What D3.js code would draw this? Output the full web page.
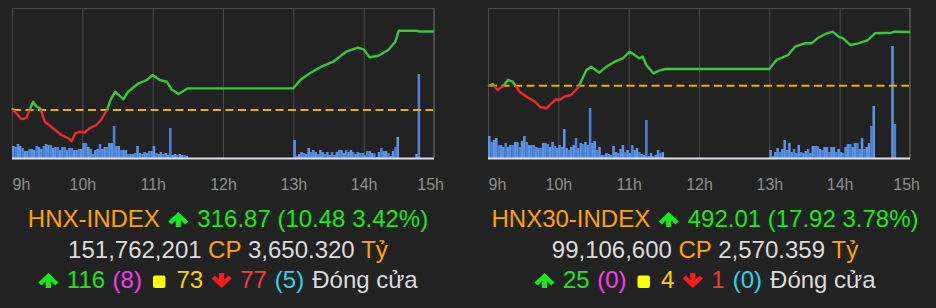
<!DOCTYPE html>
<html><head><meta charset="utf-8">
<script src="https://cdn.jsdelivr.net/npm/d3@7"></script>
<style>
html,body{margin:0;padding:0;background:#222222;}
svg{display:block;}
text{font-family:"Liberation Sans",Arial,Helvetica,sans-serif;}
</style></head><body>
<svg id="c" width="936" height="308"></svg>
<script>
// ---------- DATA ----------
const hourTicks = [0, 60, 120, 180, 240, 300, 360];          // minutes since 9:00
const hourLabels = ["9h", "10h", "11h", "12h", "13h", "14h", "15h"];

// HNX-INDEX intraday (minutes since 9:00, index points)
const hnxTime = [0,1,8,12,15,18,21,24,25,28,35,42,48,51,54,58,62,66,72,76,81,84,88,95,99,108,115,120,126,132,136,142,150,240,246,254,264,274,285,295,300,305,312,321,327,330,345,348,360];
const hnxPrice = [306.63,306.40,305.20,305.29,306.40,307.50,306.84,306.63,306.17,304.84,303.96,303.07,302.63,302.27,303.29,303.51,303.37,303.96,304.40,305.07,306.40,307.73,308.84,307.83,308.84,309.96,310.40,311.07,310.40,310.17,309.16,308.53,309.29,309.29,310.40,311.29,312.17,312.84,314.17,314.71,314.49,313.43,313.60,314.40,315.51,316.97,316.97,316.87,316.87];
const hnxRef = 306.39;
// volume (relative units), 2-minute bins from 9:00 and from 13:00
const hnxVolMorning = [12,11,14,12,10,7,7,9,9,8, 12,11,9,12,14,13,13,10,11,11, 8,11,11,8,10,10,8,8,9,9, 15,15,11,9,4,8,9,14,9,11, 11,15,15,32,12,12,8,8,8,4, 4,4,5,12,5,4,6,5,7,7, 12,5,4,6,4,5,3,30,3,4, 3,4,3,3,2];
const hnxVolAfternoon = [18,2,4,6,5,4,10,6,8,6, 4,8,6,4,6,3,6,3,6,8, 8,5,8,6,8,6,4,6,5,5, 3,7,7,5,5,1,6,10,7,7, 5,2,7,11,21];
const hnxVolLateTime = [344, 346];
const hnxVolLate = [4, 84];

// HNX30-INDEX intraday
const hnx30Time = [0,4,8,13,17,21,24,27,33,40,45,50,54,58,61,65,71,77,80,84,88,95,101,108,115,121,125,129,132,135,141,146,151,240,246,256,262,270,276,281,289,294,299,303,309,316,324,330,344,347,360];
const hnx30Price = [473.90,474.67,472.67,474.00,476.00,475.43,473.77,472.10,470.43,468.77,466.90,466.57,468.23,469.57,469.33,470.43,471.00,473.57,476.00,479.33,480.43,478.43,480.43,482.10,483.23,485.43,484.33,483.23,483.77,481.00,478.23,479.10,479.67,479.67,482.67,484.33,487.10,488.23,488.23,489.90,491.57,492.10,490.43,489.90,487.67,488.23,489.33,491.57,491.77,492.10,492.01];
const hnx30Ref = 474.09;
const hnx30VolMorning = [22,16,18,20,13,13,11,15,11,13, 13,16,16,11,17,22,16,13,13,13, 11,10,10,15,15,14,11,16,12,10, 13,11,29,10,8,11,13,20,10,15, 14,16,13,50,15,17,8,11,3,3, 5,4,3,12,6,5,9,13,6,8, 5,13,8,10,6,4,3,38,2,5, 2,3,8,5,6];
const hnx30VolAfternoon = [8,2,6,10,6,9,18,8,15,6, 9,5,13,6,5,7,9,5,12,12, 12,9,8,11,11,6,11,11,6,9, 6,5,11,14,14,11,15,15,9,20, 9,11,15,32,52];
const hnx30VolLateTime = [344, 346];
const hnx30VolLate = [112, 34];

// Summary texts
const hnxSummary = {name:"HNX-INDEX", value:"316.87", change:"10.48", pct:"3.42%", shares:"151,762,201", amount:"3,650.320", up:"116", ceil:"(8)", flat:"73", down:"77", floor:"(5)"};
const hnx30Summary = {name:"HNX30-INDEX", value:"492.01", change:"17.92", pct:"3.78%", shares:"99,106,600", amount:"2,570.359", up:"25", ceil:"(0)", flat:"4", down:"1", floor:"(0)"};

// ---------- DRAW ----------
const svg = d3.select("#c");
const BIN = 2;

function buildVol(morning, afternoon, lateT, lateV) {
  const rows = [];
  morning.forEach((v, i) => rows.push({t: i * BIN, v}));
  afternoon.forEach((v, i) => rows.push({t: 240 + i * BIN, v}));
  lateT.forEach((t, i) => rows.push({t, v: lateV[i]}));
  return rows;
}

function chart(opts) {
  const g = svg.append("g");
  const x = d3.scaleLinear().domain([0, 360]).range([opts.x0, opts.x1]);
  const y = d3.scaleLinear().domain(opts.pDomain).range([158, 8]);
  const yv = d3.scaleLinear().domain([0, 150]).range([158, 8]);

  // frame
  g.append("rect").attr("x", opts.x0 + 0.5).attr("y", 8.5)
    .attr("width", opts.x1 - opts.x0 - 1).attr("height", 150)
    .attr("fill", "none").attr("stroke", "#4b4b4b").attr("stroke-width", 1);

  // grid / axis
  const ax = g.append("g").attr("transform", "translate(0,158)")
    .call(d3.axisBottom(x).tickValues(hourTicks).tickSize(-150).tickFormat((d, i) => hourLabels[i]));
  ax.select(".domain").remove();
  ax.selectAll(".tick line").attr("stroke", "#4b4b4b").attr("stroke-width", 1);
  ax.selectAll(".tick text")
    .attr("y", 32).attr("dy", null)
    .attr("fill", "#8e8e8e").style("font-size", "16px")
    .style("font-family", '"Liberation Sans",Arial,sans-serif')
    .attr("text-anchor", (d, i) => i === 0 ? "start" : (i === hourTicks.length - 1 ? "end" : "middle"))
    .attr("x", (d, i) => i === hourTicks.length - 1 ? 9.5 : 0);

  // volume
  const vol = buildVol(opts.volM, opts.volA, opts.volLT, opts.volL);
  g.append("g").selectAll("rect").data(vol).join("rect")
    .attr("x", d => x(d.t))
    .attr("width", d => x(d.t + BIN) - x(d.t) + 0.2)
    .attr("y", d => yv(d.v))
    .attr("height", d => yv(0) - yv(d.v))
    .attr("fill", (d, i) => i % 3 === 1 ? "#4d82d6" : "#5a94e6");

  // baseline
  g.append("line").attr("x1", opts.x0).attr("x2", opts.x1)
    .attr("y1", 158.5).attr("y2", 158.5).attr("stroke", "#dfe2ee").attr("stroke-width", 2);

  // reference dashed line
  g.append("line").attr("x1", opts.x0 + 1).attr("x2", opts.x1 - 1)
    .attr("y1", y(opts.ref)).attr("y2", y(opts.ref))
    .attr("stroke", "#e6b000").attr("stroke-width", 2).attr("stroke-dasharray", "8,4.5");

  // price line, green above ref, red below
  const pts = opts.time.map((t, i) => [t, opts.price[i]]);
  const line = d3.line().x(d => x(d[0])).y(d => y(d[1]));
  const idA = opts.id + "A", idB = opts.id + "B";
  const defs = g.append("defs");
  defs.append("clipPath").attr("id", idA).append("rect")
    .attr("x", opts.x0 - 2).attr("y", 0).attr("width", opts.x1 - opts.x0 + 4).attr("height", y(opts.ref));
  defs.append("clipPath").attr("id", idB).append("rect")
    .attr("x", opts.x0 - 2).attr("y", y(opts.ref)).attr("width", opts.x1 - opts.x0 + 4).attr("height", 200);
  g.append("path").datum(pts).attr("d", line).attr("fill", "none")
    .attr("stroke", "#37c837").attr("stroke-width", 2.4).attr("stroke-linejoin", "round")
    .attr("clip-path", `url(#${idA})`);
  g.append("path").datum(pts).attr("d", line).attr("fill", "none")
    .attr("stroke", "#ee2a2a").attr("stroke-width", 2.4).attr("stroke-linejoin", "round")
    .attr("clip-path", `url(#${idB})`);
}

chart({id: "hnx", x0: 12, x1: 434, pDomain: [300, 320], ref: hnxRef, time: hnxTime, price: hnxPrice,
  volM: hnxVolMorning, volA: hnxVolAfternoon, volLT: hnxVolLateTime, volL: hnxVolLate});
chart({id: "hnx30", x0: 488, x1: 910, pDomain: [450, 500], ref: hnx30Ref, time: hnx30Time, price: hnx30Price,
  volM: hnx30VolMorning, volA: hnx30VolAfternoon, volLT: hnx30VolLateTime, volL: hnx30VolLate});

// ---------- SUMMARY TEXT ----------
const C = {orange: "#ffa200", green: "#17ea17", gray: "#dcdcdc", magenta: "#f43cf4", yellow: "#ffd000",
  sq: "#ffff00", red: "#f23b3b", redArrow: "#ff1a1a", cyan: "#27d8ec"};
const FS = 24;

function icon(g, kind, x, base, color) {
  if (kind === "up") {
    g.append("path").attr("transform", `translate(${x},${base})`)
      .attr("d", "M10,-15 L20,-5.6 L16.8,-2.6 L12.6,-6.7 L12.6,0 L7.4,0 L7.4,-6.7 L3.2,-2.6 L0,-5.6 Z").attr("fill", color);
    return 20;
  }
  if (kind === "down") {
    g.append("path").attr("transform", `translate(${x},${base})`)
      .attr("d", "M10,0 L20,-9.4 L16.8,-12.4 L12.6,-8.3 L12.6,-15 L7.4,-15 L7.4,-8.3 L3.2,-12.4 L0,-9.4 Z").attr("fill", color);
    return 20;
  }
  g.append("rect").attr("x", x).attr("y", base - 12.5).attr("width", 12.5).attr("height", 12.5)
    .attr("rx", 2.2).attr("fill", color);
  return 12.5;
}

function richLine(cx, base, parts) {
  const g = svg.append("g");
  let x = 0;
  parts.forEach(p => {
    x += p.gap || 0;
    if (p.icon) {
      x += icon(g, p.icon, x, base, p.c);
    } else {
      const t = g.append("text").attr("x", x).attr("y", base).attr("fill", p.c)
        .style("font-size", FS + "px").text(p.t);
      x += t.node().getComputedTextLength();
    }
  });
  g.attr("transform", `translate(${cx - x / 2},0)`);
}

function summary(cx, s) {
  richLine(cx, 227, [
    {t: s.name, c: C.orange},
    {icon: "up", c: C.green, gap: 8.5},
    {t: `${s.value} (${s.change} ${s.pct})`, c: C.green, gap: 9}
  ]);
  richLine(cx, 258, [
    {t: s.shares, c: C.gray},
    {t: "CP", c: C.orange, gap: 6.5},
    {t: s.amount, c: C.gray, gap: 6.5},
    {t: "Tỷ", c: C.orange, gap: 6.5}
  ]);
  richLine(cx, 288, [
    {icon: "up", c: C.green},
    {t: s.up, c: C.green, gap: 8.5},
    {t: s.ceil, c: C.magenta, gap: 7.5},
    {icon: "sq", c: C.sq, gap: 11},
    {t: s.flat, c: C.yellow, gap: 11},
    {icon: "down", c: C.redArrow, gap: 8.5},
    {t: s.down, c: C.red, gap: 8.5},
    {t: s.floor, c: C.cyan, gap: 8},
    {t: "Đóng cửa", c: C.gray, gap: 8}
  ]);
}
summary(228, hnxSummary);
summary(705, hnx30Summary);
</script>
</body></html>
